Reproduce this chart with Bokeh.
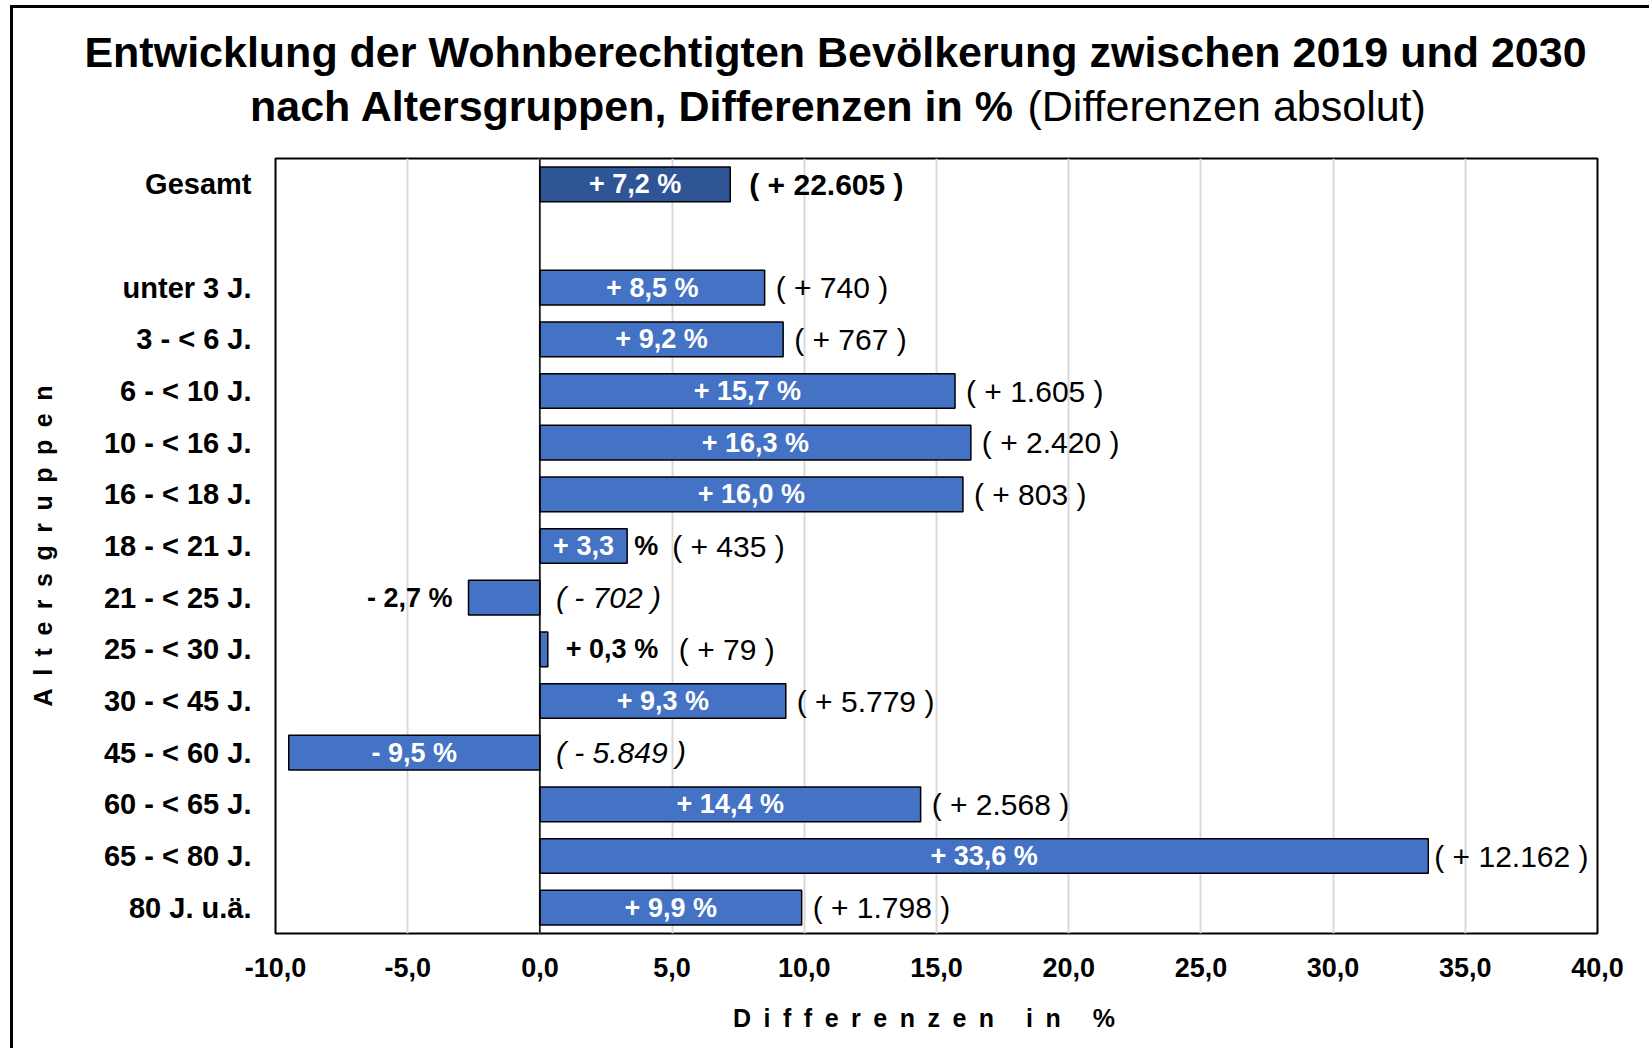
from bokeh.plotting import figure
from bokeh.layouts import column
from bokeh.models import ColumnDataSource, FactorRange, Range1d, FixedTicker, Span
from bokeh.core.properties import value
from bokeh.embed import file_html
from bokeh.resources import INLINE

FONT = "Liberation Sans"

# ---------------- data ----------------
categories = ["Gesamt", "unter 3 J.", "3 - < 6 J.", "6 - < 10 J.", "10 - < 16 J.",
              "16 - < 18 J.", "18 - < 21 J.", "21 - < 25 J.", "25 - < 30 J.",
              "30 - < 45 J.", "45 - < 60 J.", "60 - < 65 J.", "65 - < 80 J.", "80 J. u.ä."]
pct_change = [7.2, 8.5, 9.2, 15.7, 16.3, 16.0, 3.3, -2.7, 0.3, 9.3, -9.5, 14.4, 33.6, 9.9]
abs_change = [22605, 740, 767, 1605, 2420, 803, 435, -702, 79, 5779, -5849, 2568, 12162, 1798]
x_ticks = [-10, -5, 0, 5, 10, 15, 20, 25, 30, 35, 40]
x_tick_labels = ["-10,0", "-5,0", "0,0", "5,0", "10,0", "15,0", "20,0", "25,0", "30,0", "35,0", "40,0"]

title_line1 = "Entwicklung der Wohnberechtigten Bevölkerung zwischen 2019 und 2030"
title_line2_bold = "nach Altersgruppen, Differenzen in %"
title_line2_regular = "(Differenzen absolut)"
x_title = "Differenzen in %"
y_title = "Altersgruppen"

# ---------------- layout constants (canvas pixels) ----------------
W = 1636
H_TITLE = 140
H_MAIN = 900
FRAME_L, FRAME_R = 262, 1584          # frame left/right within main figure
FRAME_T, FRAME_B = 10, 785            # frame top/bottom within main figure
X0, X1 = -10, 40
PPU = (FRAME_R - FRAME_L) / (X1 - X0)
BAR_BLUE = "#4472C4"
TOTAL_BLUE = "#2F5597"

GAP = " "
factors = [categories[0], GAP] + categories[1:]


def fmt_pct(v):
    sign = "+" if v >= 0 else "-"
    return f"{sign} {abs(v):.1f}".replace(".", ",") + " %"


def fmt_num(v):
    return f"{abs(v):,}".replace(",", ".")


def fmt_abs(v):
    sign = "+" if v >= 0 else "-"
    return f"( {sign} {fmt_num(v)} )"


def spaced(s):
    return "\u2002".join(list(s))


# ---------------- title figure ----------------
t = figure(width=W, height=H_TITLE, x_range=Range1d(0, W), y_range=Range1d(H_TITLE, 0),
           x_axis_type=None, y_axis_type=None, output_backend="svg", toolbar_location=None,
           min_border=0, outline_line_color=None,
           background_fill_color="white", border_fill_color="white")
try:
    t.frame_align = False
except Exception:
    pass
t.grid.grid_line_color = None
t.text(x=[822], y=[43], text=[title_line1], text_font=value(FONT), text_font_style="bold",
       text_font_size="43px", text_align="center", text_baseline="middle", text_color="black")
t.text(x=[1001], y=[97], text=[title_line2_bold], text_font=value(FONT), text_font_style="bold",
       text_font_size="43px", text_align="right", text_baseline="middle", text_color="black")
t.text(x=[1014], y=[97], text=[title_line2_regular], text_font=value(FONT), text_font_style="normal",
       text_font_size="43px", text_align="left", text_baseline="middle", text_color="black")

# ---------------- main figure ----------------
p = figure(width=W, height=H_MAIN, x_range=Range1d(X0, X1),
           y_range=FactorRange(*reversed(factors)),
           output_backend="svg", toolbar_location=None,
           min_border_left=FRAME_L, min_border_right=W - FRAME_R,
           min_border_top=FRAME_T, min_border_bottom=H_MAIN - FRAME_B,
           background_fill_color="white", border_fill_color="white")
try:
    p.frame_align = False
except Exception:
    pass

p.outline_line_color = "black"
p.outline_line_width = 2

p.ygrid.grid_line_color = None
p.xgrid.grid_line_color = "#D9D9D9"
p.xgrid.grid_line_width = 2
p.xgrid.ticker = FixedTicker(ticks=x_ticks)

p.xaxis.ticker = FixedTicker(ticks=x_ticks)
p.xaxis.major_label_overrides = {tk: lb for tk, lb in zip(x_ticks, x_tick_labels)}
p.xaxis.axis_line_color = None
p.xaxis.major_tick_line_color = None
p.xaxis.minor_tick_line_color = None
p.xaxis.major_label_text_font = FONT
p.xaxis.major_label_text_font_style = "bold"
p.xaxis.major_label_text_font_size = "27px"
p.xaxis.major_label_text_color = "black"
p.xaxis.major_label_standoff = 18
p.xaxis.axis_label = spaced(x_title) + "\u2002\u2002"
p.xaxis.axis_label_text_font = FONT
p.xaxis.axis_label_text_font_style = "bold"
p.xaxis.axis_label_text_font_size = "25px"
p.xaxis.axis_label_text_color = "black"
p.xaxis.axis_label_standoff = 24

p.yaxis.axis_line_color = None
p.yaxis.major_tick_line_color = None
p.yaxis.minor_tick_line_color = None
p.yaxis.major_label_text_font = FONT
p.yaxis.major_label_text_font_style = "bold"
p.yaxis.major_label_text_font_size = "29px"
p.yaxis.major_label_text_color = "black"
p.yaxis.major_label_standoff = 18
p.yaxis.axis_label = spaced(y_title)
p.yaxis.axis_label_text_font = FONT
p.yaxis.axis_label_text_font_style = "bold"
p.yaxis.axis_label_text_font_size = "25px"
p.yaxis.axis_label_text_color = "black"
p.yaxis.axis_label_standoff = 44

# bars
colors = [TOTAL_BLUE] + [BAR_BLUE] * (len(categories) - 1)
bar_src = ColumnDataSource(dict(cat=categories, pct=pct_change, color=colors))
p.hbar(y="cat", left=0, right="pct", height=0.67, source=bar_src,
       fill_color="color", line_color="black", line_width=1.5)

p.add_layout(Span(location=0, dimension="height", line_color="black", line_width=1.5))

# label groups
inside = dict(x=[], y=[], t=[])
split_num = dict(x=[], y=[], t=[])
split_pct = dict(x=[], y=[], t=[])
out_left = dict(x=[], y=[], t=[])
out_right = dict(x=[], y=[], t=[])
abs_reg = dict(x=[], y=[], t=[], off=[])
abs_ital = dict(x=[], y=[], t=[], off=[])
abs_bold = dict(x=[], y=[], t=[], off=[])

for i, (c, v, a) in enumerate(zip(categories, pct_change, abs_change)):
    bar_px = abs(v) * PPU
    if bar_px >= 100:
        mode = "inside"
        inside["x"].append(v / 2); inside["y"].append(c); inside["t"].append(fmt_pct(v))
    elif bar_px >= 80:
        mode = "split"
        txt = fmt_pct(v)
        split_num["x"].append(v / 2); split_num["y"].append(c); split_num["t"].append(txt[:-2])
        split_pct["x"].append(v); split_pct["y"].append(c); split_pct["t"].append("%")
    elif v < 0:
        mode = "left"
        out_left["x"].append(v); out_left["y"].append(c); out_left["t"].append(fmt_pct(v))
    else:
        mode = "right"
        out_right["x"].append(v); out_right["y"].append(c); out_right["t"].append(fmt_pct(v))

    if i == 0:
        grp, off = abs_bold, 19
    elif a < 0:
        grp, off = abs_ital, 16
    else:
        grp = abs_reg
        off = {"inside": 11, "split": 45, "right": 131, "left": 16}[mode]
        if v * PPU > 800:
            off = 6
    grp["x"].append(max(v, 0)); grp["y"].append(c); grp["t"].append(fmt_abs(a)); grp["off"].append(off)

common = dict(text_font=value(FONT), text_baseline="middle")
p.text(x="x", y="y", text="t", source=ColumnDataSource(inside), text_color="white",
       text_font_style="bold", text_font_size="27px", text_align="center", **common)
p.text(x="x", y="y", text="t", source=ColumnDataSource(split_num), text_color="white",
       text_font_style="bold", text_font_size="27px", text_align="center", **common)
p.text(x="x", y="y", text="t", source=ColumnDataSource(split_pct), text_color="black",
       text_font_style="bold", text_font_size="27px", text_align="left", x_offset=7, **common)
p.text(x="x", y="y", text="t", source=ColumnDataSource(out_left), text_color="black",
       text_font_style="bold", text_font_size="27px", text_align="right", x_offset=-16, **common)
p.text(x="x", y="y", text="t", source=ColumnDataSource(out_right), text_color="black",
       text_font_style="bold", text_font_size="27px", text_align="left", x_offset=18, **common)
p.text(x="x", y="y", text="t", source=ColumnDataSource(abs_reg), text_color="black",
       text_font_style="normal", text_font_size="30px", text_align="left", x_offset="off", **common)
p.text(x="x", y="y", text="t", source=ColumnDataSource(abs_ital), text_color="black",
       text_font_style="italic", text_font_size="30px", text_align="left", x_offset="off", **common)
p.text(x="x", y="y", text="t", source=ColumnDataSource(abs_bold), text_color="black",
       text_font_style="bold", text_font_size="30px", text_align="left", x_offset="off", **common)

layout = column(t, p, spacing=0,
                styles={"border-left": "3px solid black", "border-top": "3px solid black",
                        "margin-left": "10px", "margin-top": "5px"})

open("out.html", "w").write(file_html(layout, INLINE))
